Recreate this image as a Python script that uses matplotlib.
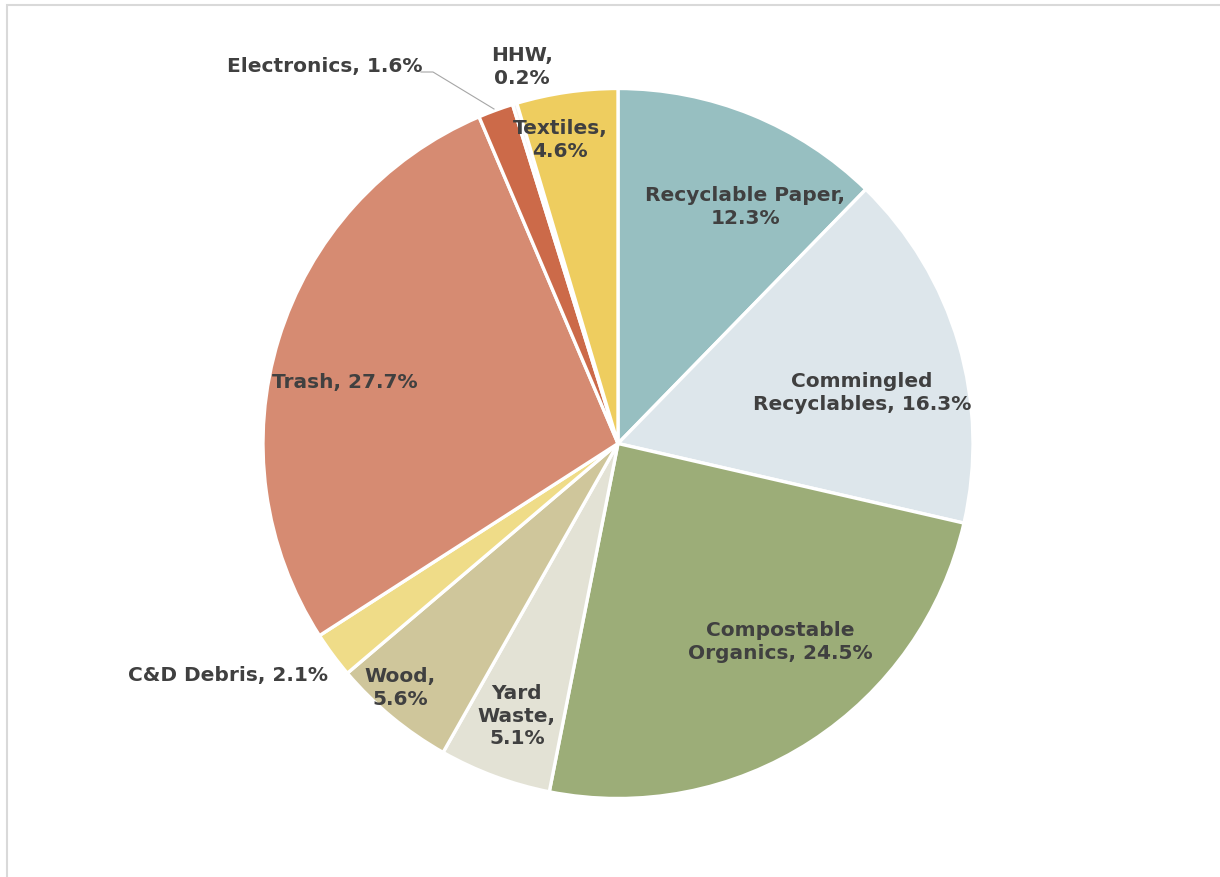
import matplotlib.pyplot as plt
from matplotlib.patches import Rectangle

# waste composition shares (%), clockwise from 12 o'clock
categories = ["Recyclable Paper", "Commingled\nRecyclables", "Compostable\nOrganics",
              "Yard\nWaste", "Wood", "C&D Debris", "Trash", "Electronics", "HHW", "Textiles"]
shares = [12.3, 16.3, 24.5, 5.1, 5.6, 2.1, 27.7, 1.6, 0.2, 4.6]
colors = ["#97bfc1", "#dde6eb", "#9cad78", "#e3e2d5", "#cfc69b", "#efdc88",
          "#d68b72", "#cc6a49", "#f2f2f2", "#eecd5f"]

# label layout (data units, pie radius = 1); second line break per label
label_text = ["Recyclable Paper,\n{}%", "Commingled\nRecyclables, {}%", "Compostable\nOrganics, {}%",
              "Yard\nWaste,\n{}%", "Wood,\n{}%", "C&D Debris, {}%", "Trash, {}%",
              "Electronics, {}%", "HHW,\n{}%", "Textiles,\n{}%"]
label_pos = [(0.358, 0.669), (0.687, 0.145), (0.456, -0.556), (-0.285, -0.765),
             (-0.614, -0.686), (-1.099, -0.652), (-0.769, 0.176), (-0.827, 1.066),
             (-0.270, 1.063), (-0.163, 0.858)]

W, H = 1220, 878
cx, cy, R = 618, 444.5, 355

fig = plt.figure(figsize=(W / 100, H / 100), dpi=100)
ax = fig.add_axes([0, 0, 1, 1])

wedges, _ = ax.pie(shares, colors=colors, startangle=90, counterclock=False,
                   radius=1, center=(0, 0), frame=True,
                   wedgeprops=dict(edgecolor="white", linewidth=2.4))
ax.set_xlim(-cx / R, (W - cx) / R)
ax.set_ylim(-(H - cy) / R, cy / R)
ax.set_aspect("auto")
ax.axis("off")

for txt, val, (x, y) in zip(label_text, shares, label_pos):
    ax.text(x, y, txt.format(val), ha="center", va="center", fontsize=14.5,
            fontweight="bold", color="#404040", linespacing=1.25,
            family="DejaVu Sans")

# leader line for the Electronics label
ax.plot([(421 - cx) / R, (433 - cx) / R, (494 - cx) / R],
        [(cy - 73) / R, (cy - 73) / R, (cy - 110) / R],
        color="#a6a6a6", lw=0.8)

# light frame around the chart area
fig.patches.append(Rectangle((7 / W, -0.05), 1.1, 1 - 6 / H + 0.05,
                             transform=fig.transFigure, fill=False,
                             edgecolor="#d9d9d9", lw=1.5))

fig.savefig("out.png", dpi=100, facecolor="white")
